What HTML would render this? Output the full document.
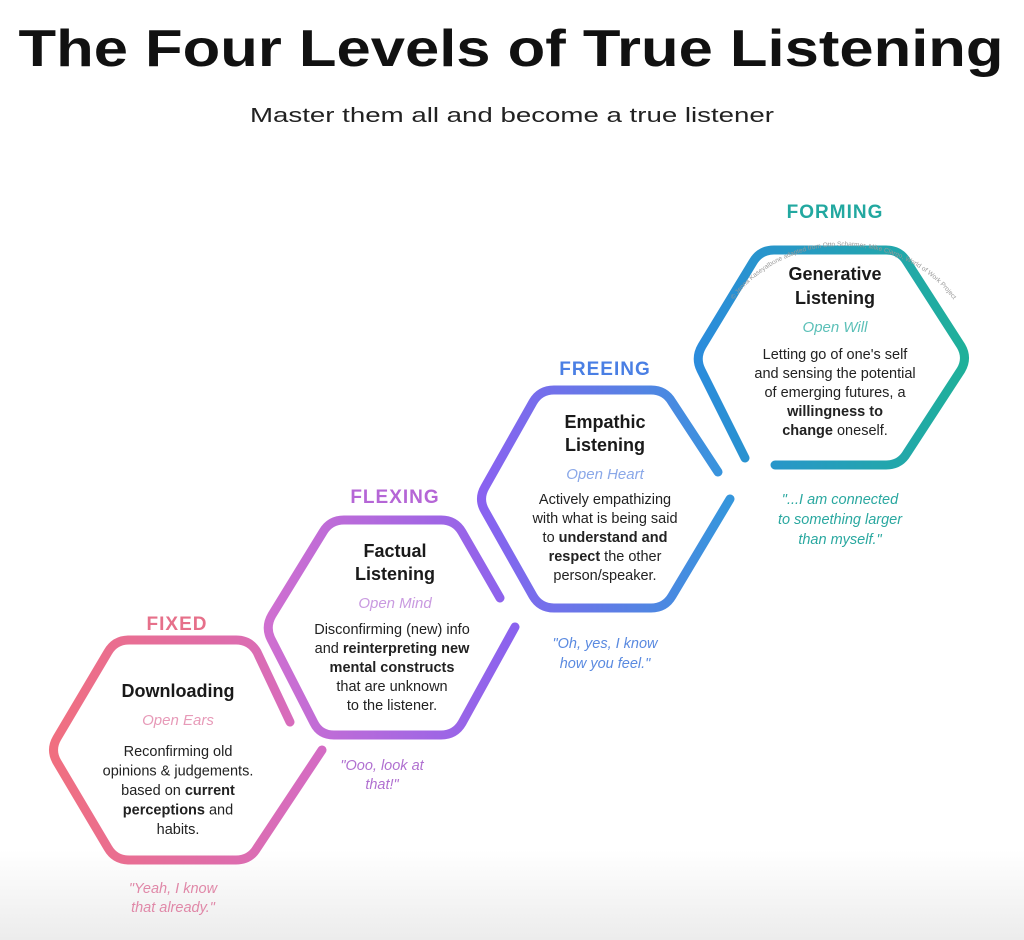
<!DOCTYPE html>
<html><head><meta charset="utf-8"><style>
html,body{margin:0;padding:0;background:#fff;}
svg{display:block;font-family:"Liberation Sans",sans-serif;}
.h{font-weight:bold;font-size:18px;fill:#1a1a1a;text-anchor:middle;}
.s{font-style:italic;font-size:15px;text-anchor:middle;}
.b{font-size:14.5px;fill:#222;text-anchor:middle;}
.b tspan.k{font-weight:bold;}
.c{font-weight:bold;font-size:19px;text-anchor:middle;letter-spacing:1px;}
.q{font-style:italic;font-size:14.5px;text-anchor:middle;}
</style></head><body>
<svg width="1024" height="940" viewBox="0 0 1024 940" xmlns="http://www.w3.org/2000/svg">
<defs>
<linearGradient id="bg" x1="0" y1="0" x2="0" y2="1"><stop offset="0" stop-color="#fff"/><stop offset="1" stop-color="#ececec"/></linearGradient>
<linearGradient id="g1" x1="0" y1="0" x2="1" y2="0"><stop offset="0" stop-color="#f06f80"/><stop offset="1" stop-color="#d46cc4"/></linearGradient>
<linearGradient id="g2" x1="0" y1="0" x2="1" y2="0"><stop offset="0" stop-color="#cf6fd0"/><stop offset="1" stop-color="#8a62ee"/></linearGradient>
<linearGradient id="g3" x1="0" y1="0" x2="1" y2="0"><stop offset="0" stop-color="#8a62f0"/><stop offset="1" stop-color="#3596dc"/></linearGradient>
<linearGradient id="g4" x1="0" y1="0" x2="1" y2="0"><stop offset="0" stop-color="#2b8cdc"/><stop offset="1" stop-color="#1fb09a"/></linearGradient>
<path id="arc" d="M712,345 A135,128 0 0 1 975,345"/>
</defs>
<rect x="0" y="850" width="1024" height="90" fill="url(#bg)"/>
<text x="511" y="66" font-size="52" font-weight="bold" fill="#111" text-anchor="middle" textLength="985" lengthAdjust="spacingAndGlyphs">The Four Levels of True Listening</text>
<text x="512" y="122" font-size="20" fill="#222" text-anchor="middle" textLength="524" lengthAdjust="spacingAndGlyphs">Master them all and become a true listener</text>

<g fill="none" stroke-width="9" stroke-linecap="round" stroke-linejoin="round">
<path stroke="url(#g1)" d="M290,722 L257,652 Q250,640 236,640 L129,640 Q115,640 108,652 L57,738 Q50,750 57,762 L108,848 Q115,860 129,860 L236,860 Q250,860 257,848 L322,750"/>
<path stroke="url(#g2)" d="M500,598 L462,532 Q455,520 441,520 L344,520 Q330,520 323,532 L272,615 Q265,627 271,639 L314,723 Q320,735 334,735 L441,735 Q455,735 462,723 L515,627"/>
<path stroke="url(#g3)" d="M718,472 L672,402 Q665,390 651,390 L554,390 Q540,390 533,402 L485,487 Q478,499 485,511 L533,596 Q540,608 554,608 L651,608 Q665,608 672,596 L730,499"/>
<path stroke="url(#g4)" d="M775,465 L886,465 Q900,465 907,453 L961,370 Q968,358 961,346 L907,262 Q900,250 886,250 L774,250 Q760,250 753,262 L702,346 Q695,358 701,370 L745,458"/>
</g>
<text font-size="6.5" fill="#999"><textPath href="#arc" startOffset="50%" text-anchor="middle">© Jenna Kaseyalbone adapted from Otto Scharmer, Mike Clargo, World of Work Project</textPath></text>

<!-- Hex1 -->
<text class="c" x="177" y="630" fill="#e6708a">FIXED</text>
<text class="h" x="178" y="697">Downloading</text>
<text class="s" x="178" y="725" fill="#e79ab8">Open Ears</text>
<text class="b" x="178" y="756"><tspan x="178">Reconfirming old</tspan><tspan x="178" dy="19.5">opinions &amp; judgements.</tspan><tspan x="178" dy="19.5">based on <tspan class="k">current</tspan></tspan><tspan x="178" dy="19.5"><tspan class="k">perceptions</tspan> and</tspan><tspan x="178" dy="19.5">habits.</tspan></text>
<text class="q" x="173" y="893" fill="#e088a8"><tspan x="173">"Yeah, I know</tspan><tspan x="173" dy="19">that already."</tspan></text>

<!-- Hex2 -->
<text class="c" x="395" y="503" fill="#b566d6">FLEXING</text>
<text class="h" x="395" y="557">Factual</text>
<text class="h" x="395" y="580">Listening</text>
<text class="s" x="395" y="608" fill="#c99ae0">Open Mind</text>
<text class="b" x="392" y="634"><tspan x="392">Disconfirming (new) info</tspan><tspan x="392" dy="19">and <tspan class="k">reinterpreting new</tspan></tspan><tspan x="392" dy="19"><tspan class="k">mental constructs</tspan></tspan><tspan x="392" dy="19">that are unknown</tspan><tspan x="392" dy="19">to the listener.</tspan></text>
<text class="q" x="382" y="770" fill="#b070d0"><tspan x="382">"Ooo, look at</tspan><tspan x="382" dy="19">that!"</tspan></text>

<!-- Hex3 -->
<text class="c" x="605" y="375" fill="#4a7fe4">FREEING</text>
<text class="h" x="605" y="428">Empathic</text>
<text class="h" x="605" y="451">Listening</text>
<text class="s" x="605" y="479" fill="#8aa8e8">Open Heart</text>
<text class="b" x="605" y="504"><tspan x="605">Actively empathizing</tspan><tspan x="605" dy="19">with what is being said</tspan><tspan x="605" dy="19">to <tspan class="k">understand and</tspan></tspan><tspan x="605" dy="19"><tspan class="k">respect</tspan> the other</tspan><tspan x="605" dy="19">person/speaker.</tspan></text>
<text class="q" x="605" y="648" fill="#5a8ae0"><tspan x="605">"Oh, yes, I know</tspan><tspan x="605" dy="20">how you feel."</tspan></text>

<!-- Hex4 -->
<text class="c" x="835" y="218" fill="#22a8a0">FORMING</text>
<text class="h" x="835" y="280">Generative</text>
<text class="h" x="835" y="304">Listening</text>
<text class="s" x="835" y="332" fill="#5cc0b8">Open Will</text>
<text class="b" x="835" y="359"><tspan x="835">Letting go of one's self</tspan><tspan x="835" dy="19">and sensing the potential</tspan><tspan x="835" dy="19">of emerging futures, a</tspan><tspan x="835" dy="19"><tspan class="k">willingness to</tspan></tspan><tspan x="835" dy="19"><tspan class="k">change</tspan> oneself.</tspan></text>
<text class="q" x="840" y="504" fill="#2aa8a0"><tspan x="840">"...I am connected</tspan><tspan x="840" dy="20">to something larger</tspan><tspan x="840" dy="20">than myself."</tspan></text>
</svg>
</body></html>
